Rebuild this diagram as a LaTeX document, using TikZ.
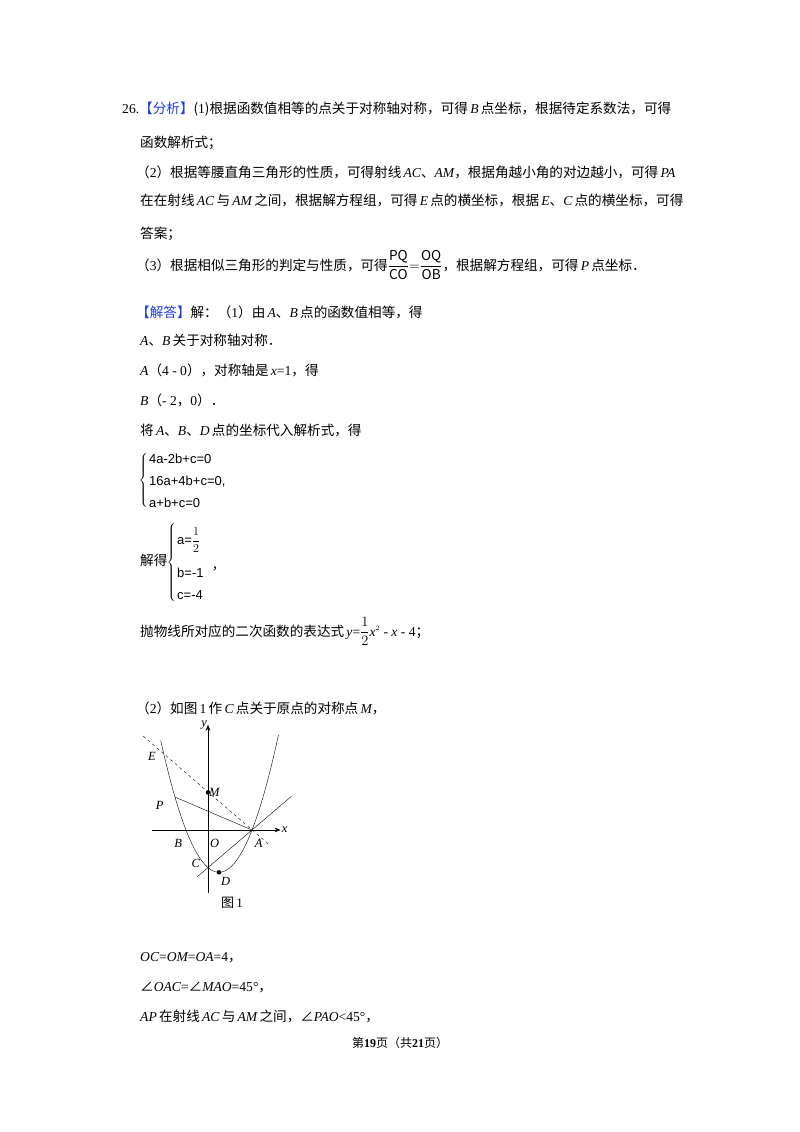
\documentclass[tikz,border=0pt]{standalone}
\usepackage{fontspec}
\usetikzlibrary{arrows.meta}
\setmainfont{Noto Sans CJK SC}
\newfontfamily\lser{Liberation Serif}
\newfontfamily\lsans{Liberation Sans}
\newcommand{\vr}[1]{{\lser\itshape #1}}
\newcommand{\nm}[1]{{\lser #1}}
\definecolor{tagblue}{RGB}{30,60,230}
\begin{document}
\begin{tikzpicture}[x=1pt,y=-1pt,
  txt/.style={anchor=base west,inner sep=0pt,font=\fontsize{13.6}{16}\selectfont},
  eq/.style={anchor=base west,inner sep=0pt,font=\lsans\fontsize{13}{15}\selectfont},
  brc/.style={anchor=east,inner sep=0pt},
  lbl/.style={inner sep=1pt,font=\lser\itshape\fontsize{12.5}{14}\selectfont},
  dot/.style={circle,fill=black,inner sep=0pt,minimum size=4.5pt}]
\useasboundingbox (0,0) rectangle (800,1132);
\fill[white] (0,0) rectangle (800,1132);
\node[txt] (l1) at (122,113) {\nm{26.}\textcolor{tagblue}{【分析】}(\nm{1})根据函数值相等的点关于对称轴对称，可得\,\vr{B}\,点坐标，根据待定系数法，可得};
\node[txt] (l2) at (140,147) {函数解析式；};
\node[txt] (l3) at (136,177) {（\nm{2}）根据等腰直角三角形的性质，可得射线\,\vr{AC}、\vr{AM}，根据角越小角的对边越小，可得\,\vr{PA}};
\node[txt] (l4) at (140,205) {在在射线\,\vr{AC}\,与\,\vr{AM}\,之间，根据解方程组，可得\,\vr{E}\,点的横坐标，根据\,\vr{E}、\vr{C}\,点的横坐标，可得};
\node[txt] (l5) at (140,238) {答案；};
\node[txt] (l6) at (136,270) {（\nm{3}）根据相似三角形的判定与性质，可得$\displaystyle\frac{\mathrm{PQ}}{\mathrm{CO}}{=}\frac{\mathrm{OQ}}{\mathrm{OB}}$，根据解方程组，可得\,\vr{P}\,点坐标．};
\node[txt] (s1) at (136,317) {\textcolor{tagblue}{【解答】}解：（\nm{1}）由\,\vr{A}、\vr{B}\,点的函数值相等，得};
\node[txt] (s2) at (140,345) {\vr{A}、\vr{B}\,关于对称轴对称．};
\node[txt] (s3) at (140,375) {\vr{A}（\nm{4 - 0}），对称轴是\,\vr{x}\nm{=1}，得};
\node[txt] (s4) at (140,405) {\vr{B}（\nm{- 2}，\nm{0}）．};
\node[txt] (s5) at (140,435) {将\,\vr{A}、\vr{B}、\vr{D}\,点的坐标代入解析式，得};
\node[brc] (e1) at (148,480) {\nulldelimiterspace=0pt$\left\{\vphantom{\rule{0pt}{30pt}}\right.$};
\node[eq] (t1) at (149,463) {4a-2b+c=0};
\node[eq] (t2) at (149,485) {16a+4b+c=0,};
\node[eq] (t3) at (149,507) {a+b+c=0};
\node[txt] (jd) at (140,565) {解得};
\node[brc] (br2) at (176,561) {\nulldelimiterspace=0pt$\left\{\vphantom{\rule{0pt}{44pt}}\right.$};
\node[eq] (u1) at (177,544) {a=$\displaystyle\frac{1}{2}$};
\node[eq] (u2) at (177,577) {b=-1};
\node[eq] (u3) at (177,599) {c=-4};
\node[txt] (u4) at (213,568) {,};
\node[txt] (pw) at (140,636) {抛物线所对应的二次函数的表达式\,\vr{y}\nm{=}$\displaystyle\frac{1}{2}$\vr{x}$^{\scriptscriptstyle 2}$\nm{ - }\vr{x}\nm{ - 4}；};
\node[txt] (p2) at (136,713) {（\nm{2}）如图\,\nm{1}\,作\,\vr{C}\,点关于原点的对称点\,\vr{M}，};
\begin{scope}[shift={(208,830)},x={(11pt,0pt)},y={(0pt,9.4pt)}]
  \coordinate (O) at (0,0);
  \coordinate (A) at (4,0);
  \coordinate (P) at (-3,3.5);
  \coordinate (M) at (0,4);
  \coordinate (Dp) at (1,-4.5);
  \coordinate (xs) at (-5.1,0); \coordinate (xe) at (6.6,0);
  \coordinate (ys) at (0,-6.7); \coordinate (ye) at (0,11.2);
  \coordinate (c1) at (-1,-5); \coordinate (c2) at (7.6,3.6);
  \coordinate (d1) at (-5.9,10); \coordinate (d2) at (5.6,-1.6);
  \draw[-{Stealth[length=6pt]}] (xs) -- (xe);
  \draw[-{Stealth[length=6pt]}] (ys) -- (ye);
  \draw plot[domain=-4.3:6.4,samples=80,smooth] (\x,{0.5*\x*\x-\x-4});
  \draw (c1) -- (c2);
  \draw[dashed] (d1) -- (d2);
  \draw (P) -- (A);
  \node[dot] (Md) at (M) {};
  \node[dot] (Dd) at (Dp) {};
  \node[lbl,right] (xl) at (xe) {x};
  \node[lbl,left] (yl) at (ye) {y};
  \node[lbl,right] (Ml) at (M) {M};
  \node[lbl] (El) at (-5.1,7.8) {E};
  \node[lbl] (Pl) at (-4.4,2.6) {P};
  \node[lbl] (Bl) at (-2.7,-1.4) {B};
  \node[lbl] (Ol) at (0.6,-1.4) {O};
  \node[lbl] (Al) at (4.6,-1.4) {A};
  \node[lbl] (Cl) at (-1.1,-3.6) {C};
  \node[lbl] (Dl) at (1.6,-5.5) {D};
\end{scope}
\node[inner sep=0pt,font=\fontsize{13}{15}\selectfont] (cap) at (232,903) {图\,\nm{1}};
\node[txt] (o1) at (140,961) {\vr{OC}\nm{=}\vr{OM}\nm{=}\vr{OA}\nm{=4}，};
\node[txt] (o2) at (140,991) {∠\vr{OAC}\nm{=}∠\vr{MAO}\nm{=45°}，};
\node[txt] (o3) at (140,1021) {\vr{AP}\,在射线\,\vr{AC}\,与\,\vr{AM}\,之间，∠\vr{PAO}\nm{<45°}，};
\node[anchor=base,inner sep=0pt,font=\fontsize{12}{14}\selectfont] (ft) at (400,1047) {第\textbf{\nm{19}}页（共\textbf{\nm{21}}页）};
\end{tikzpicture}
\end{document}
